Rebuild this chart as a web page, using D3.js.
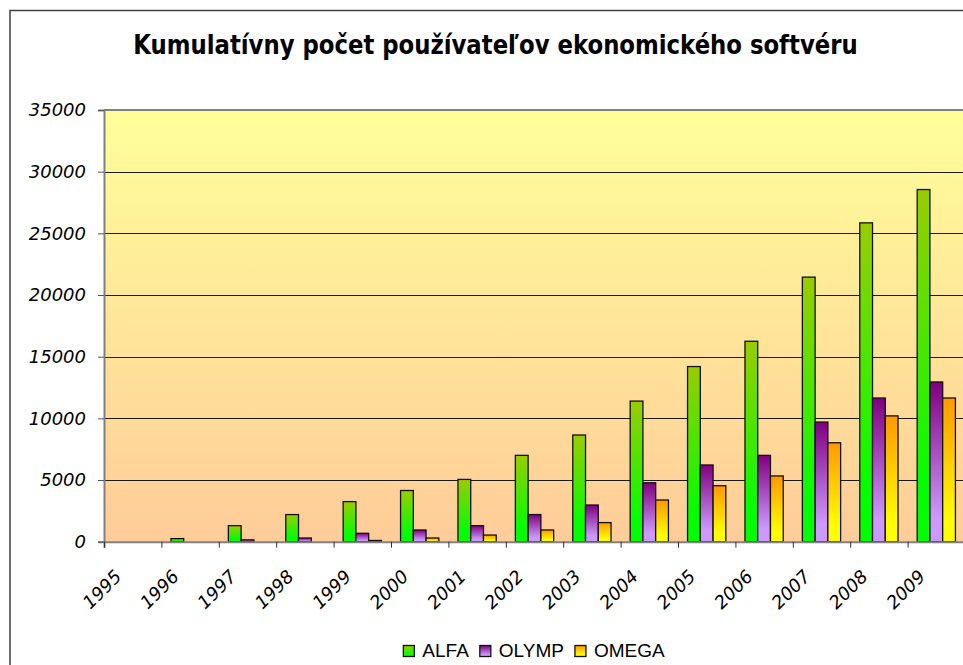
<!DOCTYPE html>
<html><head><meta charset="utf-8">
<script src="https://cdn.jsdelivr.net/npm/d3@7"></script>
<style>body{margin:0;background:#fff;overflow:hidden}</style>
</head><body>
<svg id="c" width="963" height="665"></svg>
<script>
const years = ["1995","1996","1997","1998","1999","2000","2001","2002","2003","2004","2005","2006","2007","2008","2009"];
const seriesNames = ["ALFA","OLYMP","OMEGA"];
const alfa  = [0,250,1300,2200,3250,4150,5050,7000,8650,11400,14200,16250,21450,25850,28550];
const olymp = [0,0,150,300,680,950,1300,2200,2975,4780,6220,7000,9700,11650,12950];
const omega = [0,0,0,0,100,300,540,950,1550,3380,4540,5330,8020,10200,11650];
const yTicks = [0,5000,10000,15000,20000,25000,30000,35000];
const titleText = "Kumulatívny počet používateľov ekonomického softvéru";

const seriesValues = [alfa, olymp, omega];
const gradColors = [["#99CC00","#00FF00"],["#800080","#CC99FF"],["#FF9900","#FFFF00"]];

const svg = d3.select("#c");
const L = 104, R = 965, T = 110, B = 541.7;

const defs = svg.append("defs");
const bg = defs.append("linearGradient").attr("id","bg").attr("x1",0).attr("y1",0).attr("x2",0).attr("y2",1);
bg.append("stop").attr("offset",0).attr("stop-color","#FFFF99");
bg.append("stop").attr("offset",1).attr("stop-color","#FFCC99");
gradColors.forEach((c,i)=>{
  const g = defs.append("linearGradient").attr("id","g"+i).attr("x1",0).attr("y1",0).attr("x2",0).attr("y2",1);
  g.append("stop").attr("offset",0).attr("stop-color",c[0]);
  g.append("stop").attr("offset",0.85).attr("stop-color",c[1]);
  g.append("stop").attr("offset",1).attr("stop-color",c[1]);
});

// outer chart border
svg.append("rect").attr("x",10).attr("y",10.5).attr("width",980).attr("height",700)
  .attr("fill","#fff").attr("stroke","#404040").attr("stroke-width",1.5);

// title
const title = svg.append("text").attr("x",495.5).attr("y",54)
  .attr("text-anchor","middle").attr("font-family","'DejaVu Sans', sans-serif")
  .attr("font-weight","bold").attr("font-size",26).attr("fill","#000").text(titleText);
const tw = title.node().getComputedTextLength();
const target = 725;
if (tw > target) {
  const s = target / tw;
  title.attr("transform", `translate(${495.5*(1-s)},0) scale(${s},1)`);
}

const x = d3.scaleBand().domain(years).range([L,R]).padding(0);
const bw = x.bandwidth();
const xs = d3.scaleBand().domain(seriesNames).range([0,bw]).paddingInner(0).paddingOuter(0.75);
const y = d3.scaleLinear().domain([0,35000]).range([B,T]);

// plot background
svg.append("rect").attr("x",L).attr("y",T).attr("width",R-L).attr("height",B-T).attr("fill","url(#bg)");

// gridlines
const grid = svg.append("g").attr("transform",`translate(${L},0)`)
  .call(d3.axisLeft(y).tickValues(yTicks).tickSize(-(R-L)).tickFormat(""));
grid.select(".domain").remove();
grid.selectAll("line").attr("stroke","#1a1a1a").attr("stroke-width",1).attr("shape-rendering","crispEdges");

// bars
seriesNames.forEach((s,i)=>{
  const data = years.map((yr,j)=>({yr, v: seriesValues[i][j]})).filter(d=>d.v>0);
  svg.append("g").selectAll("rect").data(data).join("rect")
    .attr("x", d=>x(d.yr)+xs(s))
    .attr("y", d=>y(d.v))
    .attr("width", xs.bandwidth())
    .attr("height", d=>B - y(d.v))
    .attr("fill", `url(#g${i})`)
    .attr("stroke","#111").attr("stroke-width",1.3);
});

// plot border top
svg.append("line").attr("x1",L).attr("x2",R).attr("y1",T).attr("y2",T).attr("stroke","#808080").attr("stroke-width",2);

// y axis
const ya = svg.append("g").attr("transform",`translate(${L},0)`)
  .call(d3.axisLeft(y).tickValues(yTicks).tickSize(6).tickPadding(12).tickFormat(d3.format("d")));
ya.select(".domain").attr("stroke","#808080").attr("stroke-width",2);
ya.selectAll("line").attr("stroke","#555");
ya.selectAll("text").attr("font-family","'DejaVu Sans', sans-serif").attr("font-style","italic")
  .attr("font-size",18).attr("fill","#000");

// x axis (ticks at category edges)
const xe = d3.scaleLinear().domain([0,years.length]).range([L,R]);
const xa = svg.append("g").attr("transform",`translate(0,${B})`)
  .call(d3.axisBottom(xe).tickValues(d3.range(years.length+1)).tickSize(6).tickFormat(""));
xa.select(".domain").attr("stroke","#808080").attr("stroke-width",2);
xa.selectAll("line").attr("stroke","#333");

svg.append("g").selectAll("text").data(years).join("text")
  .attr("transform", d=>`translate(${x(d)+bw/2-10},${B+36}) rotate(-45)`)
  .attr("text-anchor","end")
  .attr("font-family","'DejaVu Sans', sans-serif").attr("font-style","italic")
  .attr("font-size",18).attr("fill","#000").text(d=>d);

// legend
const lg = svg.append("g");
let cx = 0;
seriesNames.forEach((s,i)=>{
  const it = lg.append("g").attr("transform",`translate(${cx},0)`);
  it.append("rect").attr("x",0).attr("y",-11.5).attr("width",11).attr("height",11)
    .attr("fill",`url(#g${i})`).attr("stroke","#111").attr("stroke-width",1.3);
  const t = it.append("text").attr("x",19).attr("y",0).attr("font-family","'Liberation Sans', Arial, sans-serif")
    .attr("font-size",19).attr("fill","#000").text(s);
  cx += 19 + t.node().getComputedTextLength() + 11;
});
const lw = cx - 11;
lg.attr("transform",`translate(${534 - lw/2},${657})`);
</script>
</body></html>
